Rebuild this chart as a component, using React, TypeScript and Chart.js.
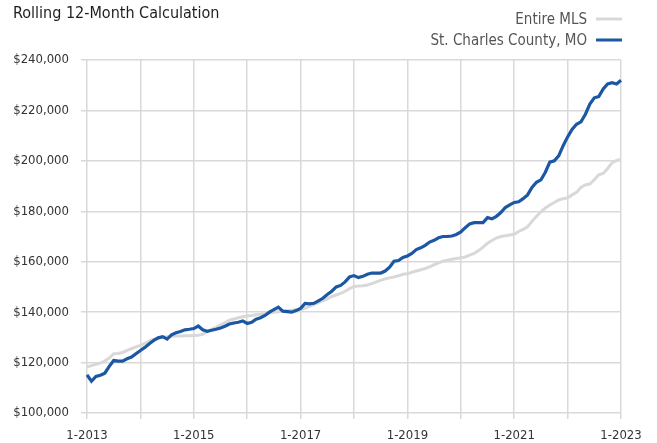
import React, { useEffect, useRef } from 'react';
import { Chart, registerables } from 'chart.js';

Chart.register(...registerables);

const FONT = "'Liberation Sans Narrow', 'Arial Narrow', 'DejaVu Sans Condensed', sans-serif";

const titleText = 'Rolling 12-Month Calculation';
const seriesNames = ['Entire MLS', 'St. Charles County, MO'];
const seriesColors = ['#d8d8d8', '#1b57a3'];
const startYear = 2013;
const monthCount = 121;
const xTickLabels = ['1-2013', '1-2015', '1-2017', '1-2019', '1-2021', '1-2023'];
const yTicks = [100000, 120000, 140000, 160000, 180000, 200000, 220000, 240000];

// Entire MLS, monthly from 1-2013 to 1-2023
const entireMLS = [
  118300, 118800, 119300, 119800, 120600, 121800, 123500, 123600, 124000, 124800, 125500, 126200,
  126800, 127600, 128500, 129200, 129700, 130000, 130200, 130400, 130500, 130500, 130600, 130600,
  130700, 130800, 131200, 132200, 133200, 134000, 135000, 135800, 136800, 137300, 137800, 138200,
  138500, 138700, 139000, 139200, 139500, 139800, 140000, 140200, 140400, 140600, 140800, 141000,
  141000, 141500, 142300, 143000, 143800, 144500, 145300, 146200, 146800, 147400, 148300, 149300,
  150200, 150400, 150500, 150800, 151300, 152000, 152600, 153200, 153600, 154000, 154400, 155000,
  155200, 155800, 156300, 156800, 157300, 158000, 158800, 159500, 160200, 160600, 161000, 161300,
  161600, 161900, 162600, 163300, 164400, 165800, 167300, 168400, 169400, 170000, 170300, 170600,
  170900, 172000, 172800, 173800, 176000, 178000, 179800, 181300, 182500, 183500, 184500, 185000,
  185300, 186500, 187500, 189500, 190500, 190800, 192500, 194500, 195000, 197000, 199300, 200200,
  200500,
];

// St. Charles County, MO, monthly from 1-2013 to 1-2023
const stCharles = [
  115100, 112600, 114500, 115000, 115800, 118500, 120800, 120600, 120600, 121500, 122200, 123500,
  124800, 126000, 127500, 128800, 129800, 130300, 129300, 131000, 131800, 132300, 133000, 133200,
  133500, 134500, 133000, 132400, 132800, 133200, 133700, 134400, 135300, 135700, 136000, 136500,
  135500, 136000, 137200, 137800, 138700, 140000, 141000, 142000, 140400, 140200, 140000, 140600,
  141500, 143500, 143300, 143500, 144500, 145500, 147000, 148300, 150000, 150600, 152000, 154000,
  154500, 153700, 154200, 155000, 155500, 155500, 155500, 156300, 157800, 160200, 160500, 161700,
  162300, 163300, 164800, 165500, 166500, 167800, 168500, 169500, 170000, 170000, 170200, 170800,
  171800, 173500, 175000, 175500, 175500, 175500, 177500, 177000, 178000, 179500, 181500, 182500,
  183500, 183800, 185000, 186500, 189500, 191500, 192500, 195500, 199500, 200000, 202000, 206000,
  209500, 212500, 214500, 215500, 218500, 222500, 225000, 225500, 228500, 230500, 231000, 230500,
  232000,
];

const months: string[] = [];
for (let i = 0; i < monthCount; i++) {
  months.push(`${(i % 12) + 1}-${startYear + Math.floor(i / 12)}`);
}

const headerPlugin = {
  id: 'header',
  afterDraw(chart: any) {
    const ctx = chart.ctx as CanvasRenderingContext2D;
    ctx.save();
    ctx.fillStyle = '#1e1e1e';
    ctx.font = `16px ${FONT}`;
    ctx.textAlign = 'left';
    ctx.textBaseline = 'alphabetic';
    ctx.fillText(titleText, 13, 18);

    ctx.font = `15px ${FONT}`;
    ctx.textAlign = 'right';
    const rows = [
      { name: seriesNames[0], color: seriesColors[0], y: 24 },
      { name: seriesNames[1], color: seriesColors[1], y: 45 },
    ];
    for (const r of rows) {
      ctx.fillStyle = '#555555';
      ctx.fillText(r.name, 587, r.y);
      ctx.strokeStyle = r.color;
      ctx.lineWidth = 3;
      ctx.beginPath();
      ctx.moveTo(596, r.y - 5);
      ctx.lineTo(622, r.y - 5);
      ctx.stroke();
    }
    ctx.restore();
  },
};

export default function App() {
  const ref = useRef<HTMLCanvasElement | null>(null);
  useEffect(() => {
    if (!ref.current) return;
    const chart = new Chart(ref.current, {
      type: 'line',
      data: {
        labels: months,
        datasets: [
          {
            label: seriesNames[1],
            data: stCharles,
            borderColor: seriesColors[1],
            backgroundColor: seriesColors[1],
            borderWidth: 3.2,
            pointRadius: 0,
            tension: 0,
            order: 0,
          },
          {
            label: seriesNames[0],
            data: entireMLS,
            borderColor: seriesColors[0],
            backgroundColor: seriesColors[0],
            borderWidth: 3,
            pointRadius: 0,
            tension: 0,
            order: 1,
          },
        ],
      },
      options: {
        responsive: false,
        animation: false,
        layout: { padding: { top: 60, right: 36, left: 0, bottom: 0 } },
        plugins: {
          legend: { display: false },
          title: { display: false },
          tooltip: { enabled: false },
        },
        scales: {
          x: {
            type: 'category',
            offset: false,
            border: { display: false },
            grid: {
              color: (c: any) => (c.index % 12 === 0 ? '#d9d9d9' : 'rgba(0,0,0,0)'),
              lineWidth: 1.5,
              tickLength: 6,
            },
            ticks: {
              autoSkip: false,
              maxRotation: 0,
              minRotation: 0,
              padding: 9,
              color: '#333333',
              font: { family: FONT, size: 13 },
              callback: (_v: any, i: number) => (xTickLabels.includes(months[i]) ? months[i] : ''),
            },
            afterFit: (s: any) => {
              s.height = 30;
            },
          },
          y: {
            min: 100000,
            max: 240000,
            border: { display: false },
            afterBuildTicks: (s: any) => {
              s.ticks = yTicks.map((v) => ({ value: v }));
            },
            grid: { color: '#d9d9d9', lineWidth: 1.5, tickLength: 6 },
            ticks: {
              padding: 12,
              color: '#333333',
              font: { family: FONT, size: 13 },
              callback: (v: any) => '$' + Number(v).toLocaleString('en-US'),
            },
            afterFit: (s: any) => {
              s.width = 87;
            },
          },
        },
      },
      plugins: [headerPlugin],
    });
    return () => chart.destroy();
  }, []);
  return (
    <div style={{ position: 'fixed', left: 0, top: 0, width: 657, height: 443, background: '#fff' }}>
      <canvas ref={ref} width={657} height={443} style={{ width: 657, height: 443, display: 'block' }} />
    </div>
  );
}
